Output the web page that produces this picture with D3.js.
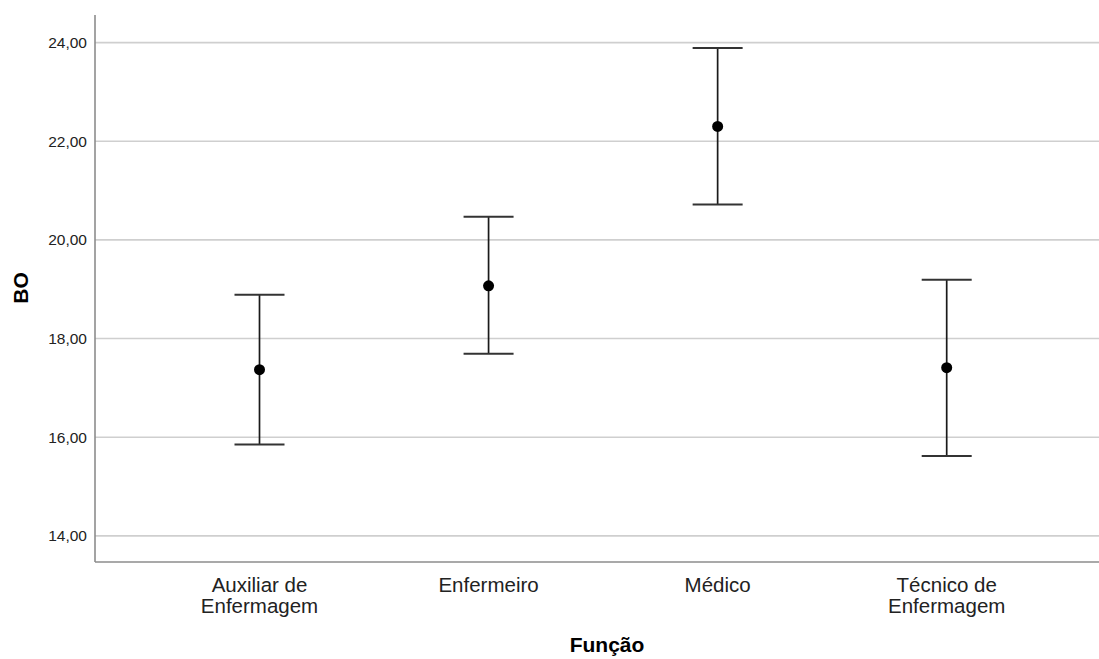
<!DOCTYPE html>
<html>
<head>
<meta charset="utf-8">
<style>
  body { margin: 0; background: #fff; }
  text { font-family: "Liberation Sans", Arial, sans-serif; }
</style>
</head>
<body>
<svg width="1099" height="659"></svg>
<script src="https://cdnjs.cloudflare.com/ajax/libs/d3/7.8.5/d3.min.js"></script>
<script>

    // categories (each label split on two lines where needed)
    var categories = ["Auxiliar de Enfermagem", "Enfermeiro", "Médico", "Técnico de Enfermagem"];
    var catLines = [["Auxiliar de", "Enfermagem"], ["Enfermeiro"], ["Médico"], ["Técnico de", "Enfermagem"]];

    // means and 95% CI bounds for BO
    var means = [17.37, 19.07, 22.30, 17.41];
    var lower = [15.85, 17.69, 20.72, 15.62];
    var upper = [18.89, 20.47, 23.89, 19.19];

    var yTicks = [14, 16, 18, 20, 22, 24];

    var svg = d3.select("svg"),
        margin = {top: 15, right: 0, bottom: 97, left: 95},
        width = +svg.attr("width") - margin.left - margin.right,
        height = +svg.attr("height") - margin.top - margin.bottom;

    var y = d3.scaleLinear()
        .domain([13.47, 24.56])
        .range([height, 0]);

    var x = d3.scalePoint()
        .domain(categories)
        .range([164.5, 851.7]);

    var g = svg.append("g").attr("transform", "translate(" + margin.left + "," + margin.top + ")");

    // gridlines
    g.selectAll(".grid")
        .data(yTicks)
        .enter().append("line")
        .attr("x1", 0)
        .attr("x2", width)
        .attr("y1", function(d) { return y(d); })
        .attr("y2", function(d) { return y(d); })
        .attr("stroke", "#cfcfcf")
        .attr("stroke-width", 1.6);

    // y axis
    var yAxis = g.append("g")
        .call(d3.axisLeft(y).tickValues(yTicks).tickSize(0).tickPadding(8)
            .tickFormat(function(d) { return d.toFixed(2).replace(".", ","); }));
    yAxis.select(".domain").remove();
    yAxis.selectAll("text")
        .attr("fill", "#222")
        .style("font-size", "15.5px")
        .style("font-family", "'Liberation Sans', Arial, sans-serif");

    // axis lines
    g.append("line")
        .attr("x1", 0).attr("x2", 0)
        .attr("y1", 0).attr("y2", height)
        .attr("stroke", "#8c8c8c").attr("stroke-width", 1.6);
    g.append("line")
        .attr("x1", 0).attr("x2", width)
        .attr("y1", height).attr("y2", height)
        .attr("stroke", "#8c8c8c").attr("stroke-width", 1.6);

    // x category labels
    var xl = g.selectAll(".xlabel")
        .data(categories)
        .enter().append("text")
        .attr("text-anchor", "middle")
        .attr("fill", "#222")
        .style("font-size", "20.5px")
        .attr("transform", function(d) { return "translate(" + x(d) + "," + (height + 29.5) + ")"; });
    xl.each(function(d, i) {
        var t = d3.select(this);
        catLines[i].forEach(function(line, j) {
            t.append("tspan").attr("x", 0).attr("y", j * 21).text(line);
        });
    });

    // error bars
    var capW = 25;
    var bars = g.selectAll(".bar")
        .data(categories)
        .enter().append("g");

    bars.append("line")
        .attr("x1", function(d) { return x(d); })
        .attr("x2", function(d) { return x(d); })
        .attr("y1", function(d, i) { return y(upper[i]); })
        .attr("y2", function(d, i) { return y(lower[i]); })
        .attr("stroke", "#1a1a1a").attr("stroke-width", 1.7);
    bars.append("line")
        .attr("x1", function(d) { return x(d) - capW; })
        .attr("x2", function(d) { return x(d) + capW; })
        .attr("y1", function(d, i) { return y(upper[i]); })
        .attr("y2", function(d, i) { return y(upper[i]); })
        .attr("stroke", "#333").attr("stroke-width", 2);
    bars.append("line")
        .attr("x1", function(d) { return x(d) - capW; })
        .attr("x2", function(d) { return x(d) + capW; })
        .attr("y1", function(d, i) { return y(lower[i]); })
        .attr("y2", function(d, i) { return y(lower[i]); })
        .attr("stroke", "#333").attr("stroke-width", 2);
    bars.append("circle")
        .attr("cx", function(d) { return x(d); })
        .attr("cy", function(d, i) { return y(means[i]); })
        .attr("r", 5.5)
        .attr("fill", "#000");

    // axis titles
    svg.append("text")
        .attr("x", 607)
        .attr("y", 652)
        .attr("text-anchor", "middle")
        .attr("fill", "#000")
        .style("font-size", "21px")
        .style("font-weight", "bold")
        .text("Função");

    svg.append("text")
        .attr("transform", "translate(28,288) rotate(-90)")
        .attr("text-anchor", "middle")
        .attr("fill", "#000")
        .style("font-size", "21px")
        .style("font-weight", "bold")
        .text("BO");

</script>
</body>
</html>
